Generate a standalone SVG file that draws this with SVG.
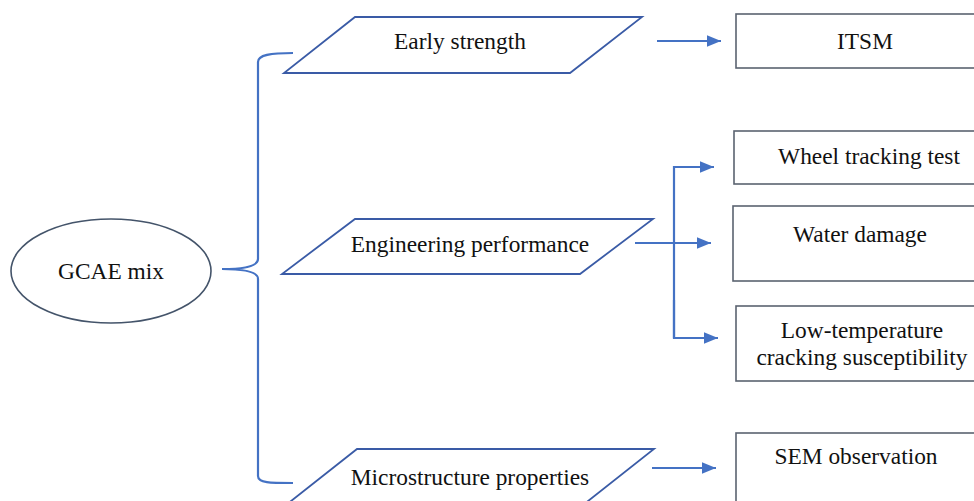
<svg xmlns="http://www.w3.org/2000/svg" width="974" height="501" viewBox="0 0 974 501">
<defs>
<style>
text{font-family:"Liberation Serif","Times New Roman",serif;font-size:23.4px;fill:#111;text-anchor:middle}
.para{fill:#fff;stroke:#3A5BA6;stroke-width:1.8}
.box{fill:#fff;stroke:#5B6370;stroke-width:1.6}
.conn{fill:none;stroke:#4472C4;stroke-width:2.2}
</style>
<marker id="ah" viewBox="0 0 12 10" refX="12" refY="5" markerWidth="14" markerHeight="12" markerUnits="userSpaceOnUse" orient="auto">
<path d="M0,0 L12,5 L0,10 z" fill="#4472C4"/>
</marker>
</defs>
<rect width="974" height="501" fill="#fff"/>
<g id="connectors">
<path class="conn" d="M293,53 C270,53 258,55 258,62 L258,259 C258,266 245,269 222,269 C245,269 258,272 258,279 L258,476 C258,483 270,483 293,483"/>
<path class="conn" d="M657,41 L721,41" marker-end="url(#ah)"/>
<path class="conn" d="M635,243 L711,243" marker-end="url(#ah)"/>
<path class="conn" d="M674,338 L674,167 L714,167" marker-end="url(#ah)"/>
<path class="conn" d="M674,300 L674,338 L718,338" marker-end="url(#ah)"/>
<path class="conn" d="M652,468 L716,468" marker-end="url(#ah)"/>
</g>
<g id="gcae">
<ellipse cx="111" cy="271" rx="100" ry="52" fill="#fff" stroke="#44546A" stroke-width="1.6"/>
<text x="111" y="279">GCAE mix</text>
</g>
<g id="early">
<polygon class="para" points="355,17 642,17 570,73 284,73"/>
<text x="460" y="49">Early strength</text>
</g>
<g id="engineering">
<polygon class="para" points="355,219 653,219 580,274 282,274"/>
<text x="470" y="252">Engineering performance</text>
</g>
<g id="micro">
<polygon class="para" points="357,449 654,449 583,505 286,505"/>
<text x="470" y="485">Microstructure properties</text>
</g>
<g id="itsm">
<rect class="box" x="736" y="14" width="245" height="54"/>
<text x="865" y="49">ITSM</text>
</g>
<g id="wheel">
<rect class="box" x="734" y="131" width="247" height="53"/>
<text x="869" y="164">Wheel tracking test</text>
</g>
<g id="water">
<rect class="box" x="733" y="206" width="248" height="75"/>
<text x="860" y="242">Water damage</text>
</g>
<g id="lowtemp">
<rect class="box" x="736" y="306" width="245" height="75"/>
<text x="862" y="338">Low-temperature</text>
<text x="862" y="365">cracking susceptibility</text>
</g>
<g id="sem">
<rect class="box" x="736" y="433" width="245" height="80"/>
<text x="856" y="464">SEM observation</text>
</g>
</svg>
